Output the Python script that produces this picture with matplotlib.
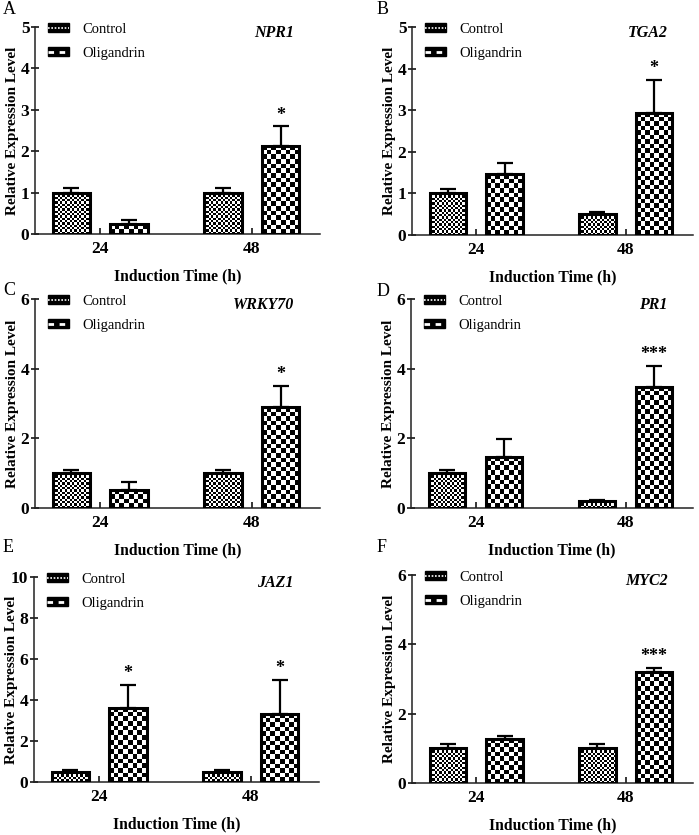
import numpy as np
import matplotlib
matplotlib.use('Agg')
import matplotlib.pyplot as plt
from matplotlib.patches import Rectangle
from matplotlib.lines import Line2D
from matplotlib.legend_handler import HandlerTuple

plt.rcParams['font.family'] = 'Liberation Serif'

# data
times = ['24', '48']
genes = ['NPR1', 'TGA2', 'WRKY70', 'PR1', 'JAZ1', 'MYC2']
letters = ['A', 'B', 'C', 'D', 'E', 'F']
ymax = [5, 5, 6, 6, 10, 6]
ystep = [1, 1, 2, 2, 2, 2]
ctrl_mean = [[1.0, 1.0], [1.0, 0.5], [1.0, 1.0], [1.0, 0.19], [0.49, 0.49], [1.0, 1.0]]
ctrl_err = [[0.11, 0.1], [0.1, 0.06], [0.1, 0.1], [0.1, 0.05], [0.11, 0.11], [0.12, 0.12]]
olig_mean = [[0.25, 2.13], [1.46, 2.94], [0.53, 2.89], [1.47, 3.48], [3.61, 3.32], [1.27, 3.19]]
olig_err = [[0.1, 0.47], [0.26, 0.78], [0.23, 0.62], [0.52, 0.59], [1.14, 1.68], [0.1, 0.14]]
stars = [['', '*'], ['', '*'], ['', '*'], ['', '***'], ['*', '*'], ['', '***']]

W, H = 699, 835
# axes boxes in pixels: left, top, right, bottom
boxes = [(35, 27, 320, 234), (412, 27, 693, 235),
         (35, 299, 320, 508), (411, 299, 693, 508),
         (34, 577, 319, 782), (412, 575, 693, 783)]
letter_pos = [(3, 10), (377, 10), (3, 290), (377, 292), (3, 548), (377, 548)]

fig = plt.figure(figsize=(W / 100, H / 100), dpi=100)
fig.patch.set_facecolor('white')


def checker(ax, patch, cell):
    x0, y0 = patch.get_x(), patch.get_y()
    w, h = patch.get_width(), patch.get_height()
    p0 = ax.transData.transform((x0, y0))
    p1 = ax.transData.transform((x0 + w, y0 + h))
    nx = max(1, int(round((p1[0] - p0[0]) / cell)))
    ny = max(1, int(round((p1[1] - p0[1]) / cell)))
    grid = np.add.outer(np.arange(ny), np.arange(nx)) % 2
    ax.imshow(grid, cmap='gray', extent=(x0, x0 + w, y0, y0 + h), origin='lower',
              interpolation='nearest', aspect='auto', zorder=2)


x = np.arange(len(times))
bw = 0.245
off = 0.19
for i in range(6):
    l, t, r, b = boxes[i]
    ax = fig.add_axes([l / W, 1 - b / H, (r - l) / W, (b - t) / H])
    xlim = (-0.43, 1.45)
    ylim = (0, ymax[i])
    ax.set_xlim(*xlim)
    ax.set_ylim(*ylim)

    bc = ax.bar(x - off, ctrl_mean[i], bw, facecolor='none', edgecolor='black',
                linewidth=2.2, zorder=4)
    bo = ax.bar(x + off, olig_mean[i], bw, facecolor='none', edgecolor='black',
                linewidth=2.2, zorder=4)
    ax.errorbar(x - off, ctrl_mean[i], yerr=[np.zeros(2), ctrl_err[i]], fmt='none',
                ecolor='black', elinewidth=1.6, capsize=6, capthick=1.6, zorder=3)
    ax.errorbar(x + off, olig_mean[i], yerr=[np.zeros(2), olig_err[i]], fmt='none',
                ecolor='black', elinewidth=1.6, capsize=6, capthick=1.6, zorder=3)
    for p in bc:
        checker(ax, p, 2.3)
    for p in bo:
        checker(ax, p, 4.6)
    ax.set_xlim(*xlim)
    ax.set_ylim(*ylim)

    for j in range(2):
        if stars[i][j]:
            ax.annotate(stars[i][j], (x[j] + off, olig_mean[i][j] + olig_err[i][j]),
                        xytext=(0, 2), textcoords='offset points', ha='center',
                        va='bottom', fontsize=13, fontweight='bold')

    for s in ['top', 'right']:
        ax.spines[s].set_visible(False)
    for s in ['left', 'bottom']:
        ax.spines[s].set_linewidth(1.1)
        ax.spines[s].set_color('#222222')
    ax.set_yticks(np.arange(0, ymax[i] + 0.1, ystep[i]))
    ax.set_xticks(x)
    ax.set_xticklabels(times)
    ax.tick_params(axis='y', direction='inout', length=6, width=1.1, pad=1,
                   labelsize=12.5)
    ax.tick_params(axis='x', direction='in', length=4, width=1.1, pad=5,
                   labelsize=12.5)
    for lab in ax.get_xticklabels() + ax.get_yticklabels():
        lab.set_fontweight('bold')
    ax.set_xlabel('Induction Time (h)', fontsize=11.3, fontweight='bold', labelpad=8)
    ax.set_ylabel('Relative Expression Level', fontsize=11, fontweight='bold')
    ax.yaxis.set_label_coords(-16 / (r - l), 0.5)

    h1 = (Rectangle((0, 0), 1, 1, facecolor='black', edgecolor='black'),
          Line2D([0], [0], color='white', linestyle=(0, (1, 1)), linewidth=1.2))
    h2 = (Rectangle((0, 0), 1, 1, facecolor='black', edgecolor='black'),
          Line2D([0], [0], color='white', linestyle=(0, (2, 2)), linewidth=2))
    ax.legend([h1, h2], ['Control', 'Oligandrin'],
              handler_map={tuple: HandlerTuple(ndivide=1, pad=0)},
              loc='upper left', bbox_to_anchor=(13 / (r - l), 1.02),
              frameon=False, fontsize=10.5, handlelength=1.45, handleheight=0.55,
              handletextpad=0.9, labelspacing=0.75, borderpad=0, borderaxespad=0)
    ax.text(0.91, 0.97, genes[i], transform=ax.transAxes, ha='right', va='center',
            fontsize=11.5, fontweight='bold', fontstyle='italic')

    lx, ly = letter_pos[i]
    fig.text(lx / W, 1 - ly / H, letters[i], fontsize=13, ha='left', va='center')

fig.savefig('out.png', dpi=100, facecolor='white')
